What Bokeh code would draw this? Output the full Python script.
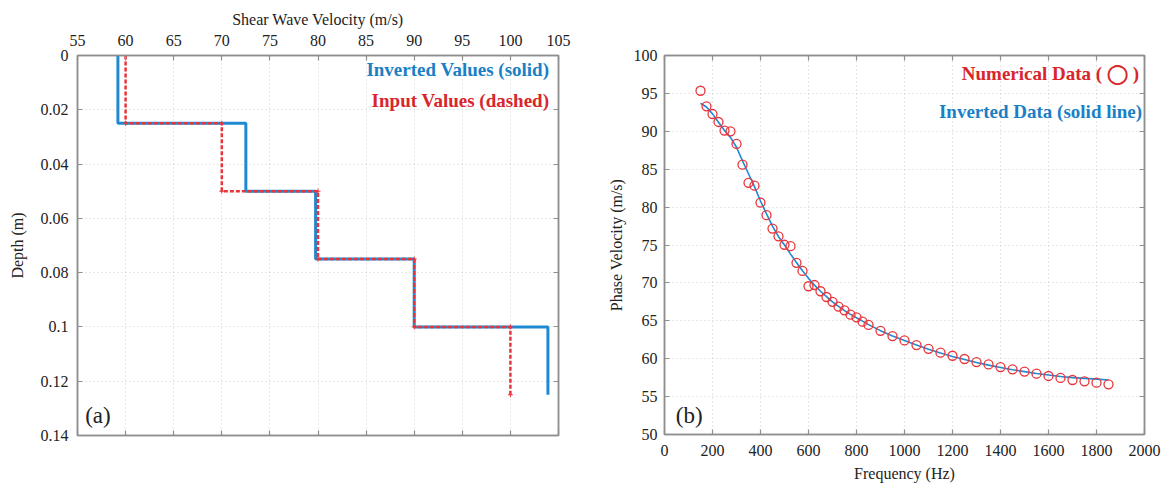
from bokeh.plotting import figure
from bokeh.models import Range1d, LinearAxis, FixedTicker, CustomJSTickFormatter, Label
from bokeh.layouts import row
from bokeh.embed import file_html
from bokeh.resources import INLINE

# ---------------- data: panel (a) ----------------
layer_depths = [0, 0.025, 0.05, 0.075, 0.1, 0.125]
vs_inverted = [59.2, 72.5, 79.75, 90.0, 103.9]
vs_input = [60.0, 70.0, 80.0, 90.0, 100.0]
vel_ticks = [55, 60, 65, 70, 75, 80, 85, 90, 95, 100, 105]
depth_ticks = [0, 0.02, 0.04, 0.06, 0.08, 0.1, 0.12, 0.14]
depth_tick_labels = ["0", "0.02", "0.04", "0.06", "0.08", "0.1", "0.12", "0.14"]

# ---------------- data: panel (b) ----------------
freq = [150, 175, 200, 225, 250, 275, 300, 325, 350, 375, 400, 425, 450, 475, 500,
        525, 550, 575, 600, 625, 650, 675, 700, 725, 750, 775, 800, 825, 850,
        900, 950, 1000, 1050, 1100, 1150, 1200, 1250, 1300, 1350, 1400, 1450, 1500,
        1550, 1600, 1650, 1700, 1750, 1800, 1850]
phase_numerical = [95.35, 93.3, 92.28, 91.23, 90.09, 90.0, 88.33, 85.6, 83.2, 82.83,
                   80.6, 78.93, 77.17, 76.14, 75.03, 74.84, 72.65, 71.58, 69.56, 69.72,
                   68.9, 68.14, 67.5, 66.88, 66.38, 65.81, 65.46, 64.89, 64.45,
                   63.68, 62.98, 62.41, 61.8, 61.3, 60.79, 60.39, 59.96, 59.56, 59.25,
                   58.9, 58.6, 58.3, 58.03, 57.72, 57.46, 57.19, 57.02, 56.84, 56.62]
phase_inverted = [93.7, 93.2, 92.3, 91.2, 90.1, 89.2, 87.9, 86.1, 84.4, 82.7,
                  80.8, 79.1, 77.5, 76.1, 75.0, 73.8, 72.7, 71.6, 70.6, 69.7,
                  68.9, 68.2, 67.5, 66.9, 66.35, 65.85, 65.4, 64.95, 64.5,
                  63.7, 63.0, 62.4, 61.8, 61.25, 60.75, 60.3, 59.9, 59.5, 59.15,
                  58.85, 58.55, 58.3, 58.05, 57.85, 57.65, 57.5, 57.4, 57.3, 57.2]
freq_ticks = [0, 200, 400, 600, 800, 1000, 1200, 1400, 1600, 1800, 2000]
phase_ticks = [50, 55, 60, 65, 70, 75, 80, 85, 90, 95, 100]

BLUE = "#2089d3"
RED = "#e8353b"
TXT_BLUE = "#1b7fc6"
TXT_RED = "#d8262c"
AXIS = "#8f8f8f"
FONT = "Liberation Serif"
TEXT = "#222222"


def profile_path(vals, depths):
    xs, ys = [], []
    for i, v in enumerate(vals):
        xs += [v, v]
        ys += [depths[i], depths[i + 1]]
    return xs, ys


def style_axis(ax, ticks, show_labels=True, overrides=None):
    ax.ticker = FixedTicker(ticks=ticks)
    ax.axis_line_color = AXIS
    ax.axis_line_width = 1.5
    ax.major_tick_line_color = AXIS
    ax.major_tick_line_width = 1.2
    ax.major_tick_in = 5
    ax.major_tick_out = 0
    ax.minor_tick_line_color = None
    ax.major_label_text_font = FONT
    ax.major_label_text_font_size = "16px"
    ax.major_label_text_color = TEXT
    ax.axis_label_text_font = FONT
    ax.axis_label_text_font_size = "16px"
    ax.axis_label_text_font_style = "normal"
    ax.axis_label_text_color = TEXT
    if not show_labels:
        ax.formatter = CustomJSTickFormatter(code="return ''")
    if overrides:
        ax.major_label_overrides = overrides


def style_grid(p):
    for g in (p.xgrid, p.ygrid):
        g.grid_line_color = "#cfcfcf"
        g.grid_line_dash = "1 3"
        g.grid_line_width = 1


# ---------------- panel (a) ----------------
p1 = figure(frame_width=481, frame_height=380,
            min_border_left=77, min_border_right=27, min_border_top=54, min_border_bottom=53,
            x_range=Range1d(55, 105), y_range=Range1d(0.14, 0),
            x_axis_location="above", output_backend="svg", toolbar_location=None,
            background_fill_color="white", border_fill_color="white")
p1.outline_line_color = AXIS
p1.outline_line_width = 1.5
style_axis(p1.xaxis[0], vel_ticks)
p1.xaxis[0].axis_label = "Shear Wave Velocity (m/s)"
p1.xaxis[0].major_label_standoff = 10
p1.xaxis[0].axis_label_standoff = 4
style_axis(p1.yaxis[0], depth_ticks,
           overrides={t: l for t, l in zip(depth_ticks, depth_tick_labels)})
p1.yaxis[0].axis_label = "Depth (m)"
p1.yaxis[0].major_label_standoff = 9
p1.yaxis[0].axis_label_standoff = 12
ax_b = LinearAxis()
style_axis(ax_b, vel_ticks, show_labels=False)
p1.add_layout(ax_b, "below")
ax_r = LinearAxis()
style_axis(ax_r, depth_ticks, show_labels=False)
p1.add_layout(ax_r, "right")
style_grid(p1)
p1.xgrid.ticker = FixedTicker(ticks=vel_ticks)
p1.ygrid.ticker = FixedTicker(ticks=depth_ticks)

xi, yi = profile_path(vs_inverted, layer_depths)
p1.line(xi, yi, line_color=BLUE, line_width=3)
xd, yd = profile_path(vs_input, layer_depths)
p1.line(xd, yd, line_color=RED, line_width=2.5, line_dash="4 2")
p1.scatter(xd, yd, marker="cross", size=5, line_color=RED, line_width=1)

p1.add_layout(Label(x=104.05, y=0.0052, text="Inverted Values (solid)", text_align="right",
                    text_baseline="middle", text_font=FONT, text_font_style="bold",
                    text_font_size="19px", text_color=TXT_BLUE))
p1.add_layout(Label(x=104.05, y=0.0165, text="Input Values (dashed)", text_align="right",
                    text_baseline="middle", text_font=FONT, text_font_style="bold",
                    text_font_size="19px", text_color=TXT_RED))
p1.add_layout(Label(x=55.8, y=0.1327, text="(a)", text_align="left",
                    text_baseline="middle", text_font=FONT,
                    text_font_size="23px", text_color=TEXT))

# ---------------- panel (b) ----------------
p2 = figure(frame_width=480, frame_height=379,
            min_border_left=79, min_border_right=26, min_border_top=55, min_border_bottom=53,
            x_range=Range1d(0, 2000), y_range=Range1d(50, 100),
            output_backend="svg", toolbar_location=None,
            background_fill_color="white", border_fill_color="white")
p2.outline_line_color = AXIS
p2.outline_line_width = 1.5
style_axis(p2.xaxis[0], freq_ticks)
p2.xaxis[0].axis_label = "Frequency (Hz)"
p2.xaxis[0].major_label_standoff = 10
p2.xaxis[0].axis_label_standoff = 6
style_axis(p2.yaxis[0], phase_ticks)
p2.yaxis[0].axis_label = "Phase Velocity (m/s)"
p2.yaxis[0].axis_label_standoff = 6
p2.yaxis[0].major_label_standoff = 7
ax_t = LinearAxis()
style_axis(ax_t, freq_ticks, show_labels=False)
p2.add_layout(ax_t, "above")
ax_r2 = LinearAxis()
style_axis(ax_r2, phase_ticks, show_labels=False)
p2.add_layout(ax_r2, "right")
style_grid(p2)
p2.xgrid.ticker = FixedTicker(ticks=freq_ticks)
p2.ygrid.ticker = FixedTicker(ticks=phase_ticks)

p2.line(freq, phase_inverted, line_color=BLUE, line_width=1.6)
p2.scatter(freq, phase_numerical, marker="circle", size=9, fill_color=None,
           line_color=RED, line_width=1.3)

p2.add_layout(Label(x=1977, y=97.6, text="Numerical Data ( \u25ef )", text_align="right",
                    text_baseline="middle", text_font=FONT, text_font_style="bold",
                    text_font_size="19px", text_color=TXT_RED))
p2.add_layout(Label(x=1990, y=92.65, text="Inverted Data (solid line)", text_align="right",
                    text_baseline="middle", text_font=FONT, text_font_style="bold",
                    text_font_size="19px", text_color=TXT_BLUE))
p2.add_layout(Label(x=47, y=52.55, text="(b)", text_align="left",
                    text_baseline="middle", text_font=FONT,
                    text_font_size="23px", text_color=TEXT))

layout = row(p1, p2, spacing=0)
open("out.html", "w").write(file_html(layout, INLINE))
